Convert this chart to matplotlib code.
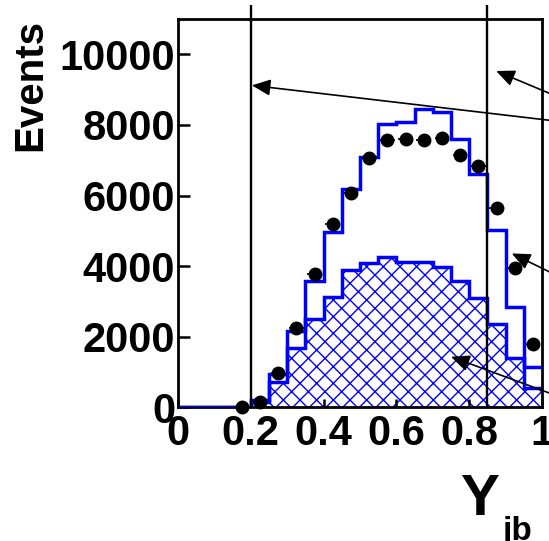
import numpy as np
import matplotlib
matplotlib.use('Agg')
import matplotlib.pyplot as plt

plt.rcParams['font.family'] = ['Liberation Sans', 'DejaVu Sans']
plt.rcParams['font.weight'] = 'bold'
plt.rcParams['hatch.linewidth'] = 1.0

# bin edges of Y_jb (20 bins of 0.05)
edges = np.linspace(0, 1, 21)

# total MC (open blue histogram)
mc_total = [0, 0, 0, 0, 210, 943, 2169, 3584, 4953, 6179,
            7100, 8038, 8084, 8443, 8367, 7594, 6603, 5018, 2830, 1149]
# MC component (hatched blue histogram)
mc_part = [0, 0, 0, 0, 150, 725, 1670, 2491, 3131, 3886,
           4076, 4263, 4122, 4122, 3980, 3575, 3085, 2349, 1387, 555]
# data points
data_x = [0.175, 0.225, 0.275, 0.325, 0.375, 0.425, 0.475, 0.525, 0.575,
          0.625, 0.675, 0.725, 0.775, 0.825, 0.875, 0.925, 0.975]
data_y = [0, 158, 979, 2253, 3764, 5188, 6057, 7065, 7566,
          7594, 7566, 7631, 7161, 6830, 5650, 3934, 1783]
data_xerr = 0.02

# cut positions
cuts = [0.2, 0.848]

# annotation arrows (head, tail) in data coords, labels lie outside the picture
arrow_heads = [(0.203, 9120), (0.874, 9527), (0.917, 4359), (0.750, 1432)]
arrow_tails = [(1.02, 8131), (1.02, 8896), (1.02, 3838), (1.02, 405)]

xticks = [0, 0.2, 0.4, 0.6, 0.8, 1.0]
xticklabels = ['0', '0.2', '0.4', '0.6', '0.8', '1']
yticks = [0, 2000, 4000, 6000, 8000, 10000]
yticklabels = ['0', '2000', '4000', '6000', '8000', '10000']

fig = plt.figure(figsize=(5.49, 5.41), dpi=100)
ax = fig.add_axes([178/549, 1 - 407.3/541, 364/549, 388.3/541])

ax.stairs(mc_part, edges, fill=True, facecolor='none', edgecolor='blue',
          hatch='xx', linewidth=0)
ax.stairs(mc_part, edges, color='blue', lw=2.5, baseline=None)
# drawn over the frame so the empty low-y bins show as a blue line on the axis
ax.stairs(mc_total, edges, color='blue', lw=2.5, baseline=None, zorder=2.6)

ax.errorbar(data_x, data_y, xerr=data_xerr, fmt='o', color='black', ms=9,
            elinewidth=1.2, capsize=0, clip_on=False, zorder=4)

ax.vlines(cuts, 0, 11390, color='black', lw=1.7, clip_on=False, zorder=3)

for head, tail in zip(arrow_heads, arrow_tails):
    ax.annotate('', xy=head, xytext=tail, annotation_clip=False,
                arrowprops=dict(arrowstyle='-|>,head_length=0.45,head_width=0.2',
                                mutation_scale=25, color='black', lw=1.2,
                                shrinkA=0, shrinkB=0))

ax.set_xlim(0, 1)
ax.set_ylim(0, 11000)
ax.set_xticks(xticks)
ax.set_xticklabels(xticklabels)
ax.set_yticks(yticks)
ax.set_yticklabels(yticklabels)
ax.tick_params(axis='both', direction='in', labelsize=30, width=1.8)
ax.tick_params(axis='y', length=8.5, pad=2)
ax.tick_params(axis='x', length=6, pad=5)
for s in ax.spines.values():
    s.set_linewidth(2)

fig.text(30/549, 1 - 19/541, 'Events', rotation=90, ha='center', va='top',
         fontsize=29, fontweight='bold')
fig.text(460/549, 1 - 515/541, 'Y', ha='left', va='baseline',
         fontsize=42, fontweight='bold')
fig.text(503/549, 1 - 540/541, 'jb', ha='left', va='baseline',
         fontsize=24, fontweight='bold')

fig.savefig('out.png', dpi=100)
